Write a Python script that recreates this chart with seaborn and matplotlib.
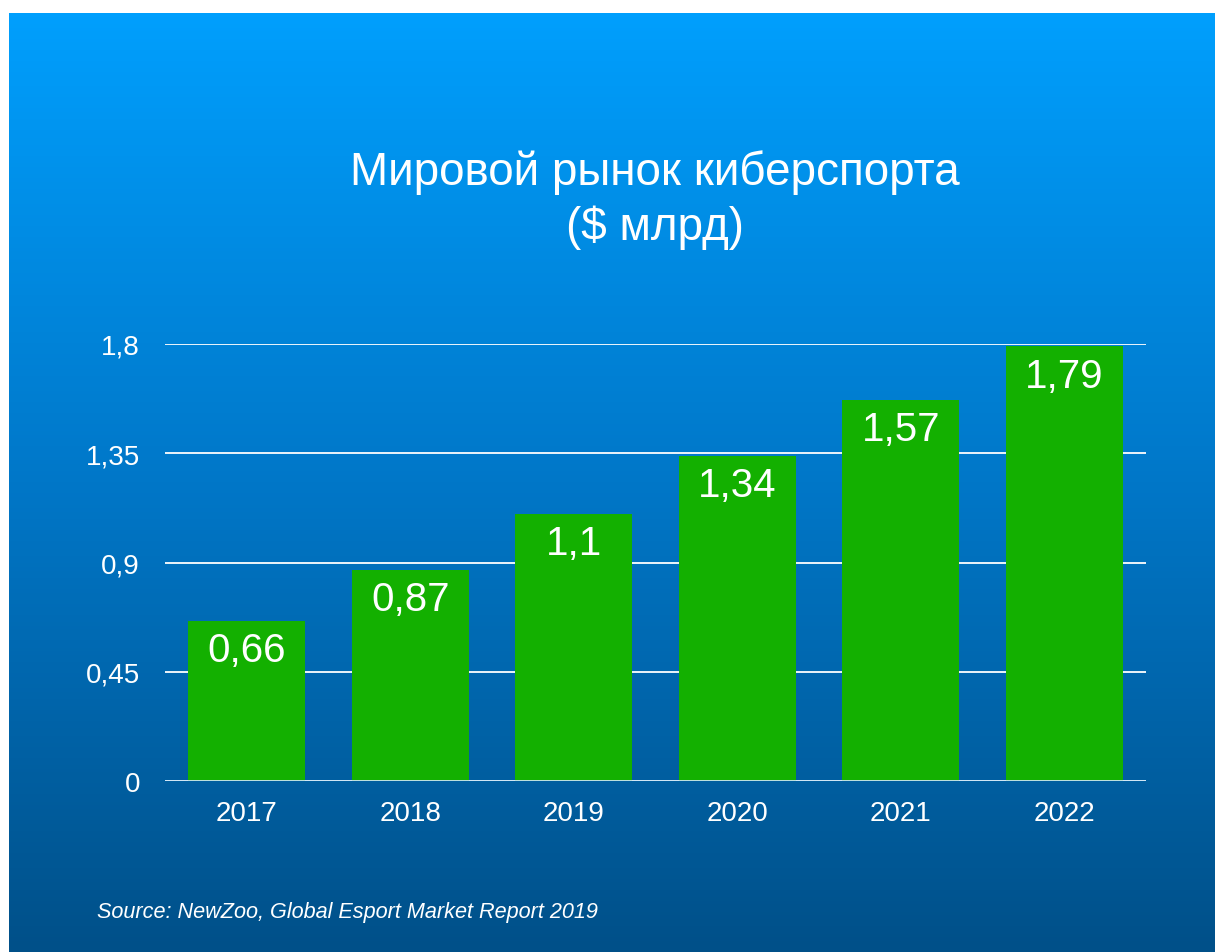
import numpy as np
import pandas as pd
import matplotlib
matplotlib.use("Agg")
import matplotlib.pyplot as plt
from matplotlib.colors import LinearSegmentedColormap
import seaborn as sns

years = ["2017", "2018", "2019", "2020", "2021", "2022"]
values = [0.66, 0.87, 1.1, 1.34, 1.57, 1.79]
value_labels = ["0,66", "0,87", "1,1", "1,34", "1,57", "1,79"]
yticks = [0, 0.45, 0.9, 1.35, 1.8]
ytick_labels = ["0", "0,45", "0,9", "1,35", "1,8"]
title_line1 = "Мировой рынок киберспорта"
title_line2 = "($ млрд)"
source = "Source: NewZoo, Global Esport Market Report 2019"

sns.set_theme(style="white")
plt.rcParams['font.family'] = ['Liberation Sans', 'DejaVu Sans']

W, H = 1215, 953
fig = plt.figure(figsize=(W / 100, H / 100), dpi=100)
fig.patch.set_facecolor("white")

# gradient background
bg = fig.add_axes([9 / W, 0, 1 - 9 / W, 1 - 14 / H])
cmap = LinearSegmentedColormap.from_list("bg", ["#009FFD", "#0177C8", "#005089"])
grad = np.linspace(0, 1, 256).reshape(-1, 1)
bg.imshow(grad, aspect="auto", cmap=cmap, extent=[0, 1, 0, 1], origin="upper")
bg.set_axis_off()

# main axes: x 165..1146, y 345..782 (px from top)
left, right = 165 / W, 1146 / W
top, bottom = 345 / H, 782 / H
ax = fig.add_axes([left, 1 - bottom, right - left, bottom - top])
ax.set_facecolor("none")

df = pd.DataFrame({"year": years, "value": values})
sns.barplot(data=df, x="year", y="value", color="#13B000", saturation=1,
            width=0.715, ax=ax, zorder=3)
for p in ax.patches:
    p.set_edgecolor("none")

ax.set_ylim(0, 1.8)
ax.set_yticks(yticks)
ax.set_yticklabels(ytick_labels)
ax.yaxis.grid(True, color="white", linewidth=1.3, zorder=0)
ax.set_axisbelow(True)
ax.axhline(0, color="#CFE6F5", linewidth=1.3, zorder=4)
for s in ax.spines.values():
    s.set_visible(False)
ax.tick_params(axis="both", length=0, colors="white", labelsize=20)
ax.tick_params(axis="y", pad=18)
ax.tick_params(axis="x", pad=14)
ax.set_xlabel("")
ax.set_ylabel("")

for i, (v, lab) in enumerate(zip(values, value_labels)):
    ax.annotate(lab, (i, v), xytext=(0, -21), textcoords="offset points",
                ha="center", va="center", color="white", fontsize=29)

fig.text(655 / W, 1 - 173 / H, title_line1, ha="center", va="center",
         color="white", fontsize=33)
fig.text(655 / W, 1 - 228 / H, title_line2, ha="center", va="center",
         color="white", fontsize=33)
fig.text(97 / W, 1 - 913 / H, source, ha="left", va="center",
         color="white", fontsize=15.6, style="italic")

fig.savefig("out.png", dpi=100, facecolor=fig.get_facecolor())
